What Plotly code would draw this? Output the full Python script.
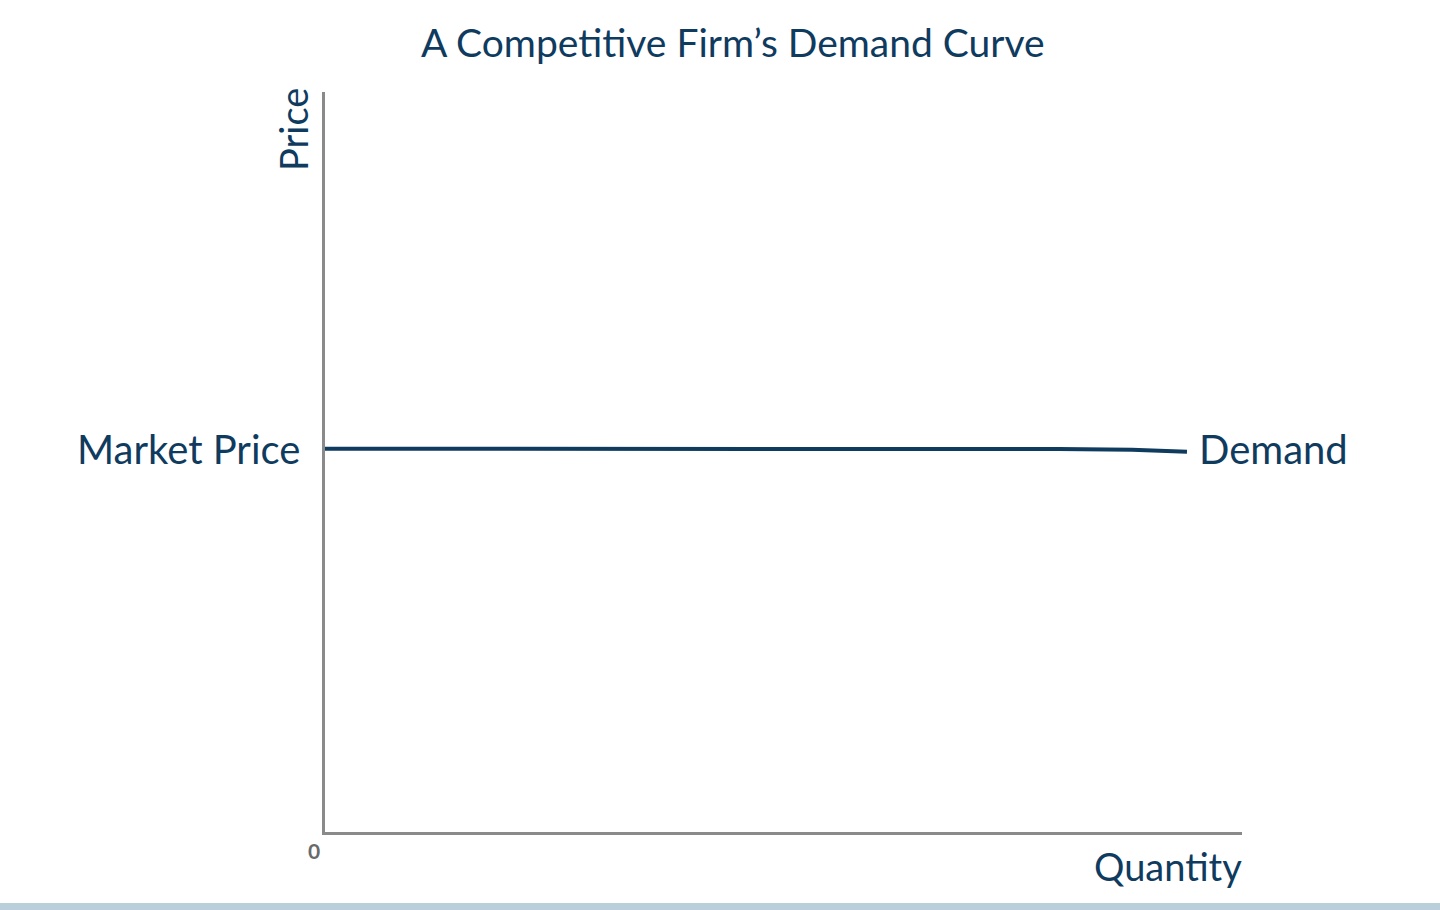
import plotly.graph_objects as go

# Data
quantity = [0, 4.0, 8.0, 8.8, 9.2, 9.4]
price = [5.18, 5.18, 5.175, 5.165, 5.15, 5.14]
market_price = 5.18
title_text = "A Competitive Firm’s Demand Curve"
x_label = "Quantity"
y_label = "Price"
curve_label = "Demand"
price_label = "Market Price"
origin_label = "0"

NAVY = "#0f3b5f"
GRAY = "#8a8a8a"
FONT = "Lato"

fig = go.Figure()
fig.add_trace(go.Scatter(
    x=quantity, y=price, mode="lines",
    line=dict(color=NAVY, width=4),
    hoverinfo="skip", showlegend=False,
))

W, H = 1440, 910
ml, mr, mt, mb = 325, 198, 92, 78
pw, ph = W - ml - mr, H - mt - mb

def px_x(p):
    return (p - ml) / pw

def px_y(p):
    return (H - mb - p) / ph

fig.update_layout(
    width=W, height=H,
    margin=dict(l=ml, r=mr, t=mt, b=mb, autoexpand=False),
    plot_bgcolor="white", paper_bgcolor="white",
    xaxis=dict(range=[0, 10], showline=True, linecolor=GRAY, linewidth=3,
               showgrid=False, zeroline=False, showticklabels=False, ticks=""),
    yaxis=dict(range=[0, 10], showline=True, linecolor=GRAY, linewidth=3,
               showgrid=False, zeroline=False, showticklabels=False, ticks=""),
    font=dict(family=FONT, color=NAVY),
)

ann = []
ann.append(dict(text=title_text, xref="paper", yref="paper",
                x=px_x(733), y=px_y(42), xanchor="center", yanchor="middle",
                showarrow=False, font=dict(size=39, color=NAVY, family=FONT)))
ann.append(dict(text=y_label, xref="paper", yref="paper",
                x=px_x(293), y=px_y(130), xanchor="center", yanchor="middle",
                textangle=-90, showarrow=False, font=dict(size=38, color=NAVY, family=FONT)))
ann.append(dict(text=x_label, xref="paper", yref="paper",
                x=px_x(1244), y=px_y(866), xanchor="right", yanchor="middle",
                showarrow=False, font=dict(size=38, color=NAVY, family=FONT)))
ann.append(dict(text=price_label, xref="paper", y=market_price, yref="y",
                x=px_x(302), xanchor="right", yanchor="middle",
                showarrow=False, font=dict(size=40, color=NAVY, family=FONT)))
ann.append(dict(text=curve_label, xref="x", x=quantity[-1], yref="y", y=market_price,
                xshift=10, xanchor="left", yanchor="middle",
                showarrow=False, font=dict(size=40, color=NAVY, family=FONT)))
ann.append(dict(text="<b>" + origin_label + "</b>", xref="paper", yref="paper",
                x=px_x(314), y=px_y(850), xanchor="center", yanchor="middle",
                showarrow=False, font=dict(size=21, color="#6a6a6a", family=FONT)))
fig.update_layout(annotations=ann)

fig.add_shape(type="rect", xref="paper", yref="paper",
              x0=px_x(0), x1=px_x(W), y0=px_y(903), y1=px_y(912),
              fillcolor="#b9cfd9", line=dict(width=0), layer="above")

fig.write_html("out.html")
